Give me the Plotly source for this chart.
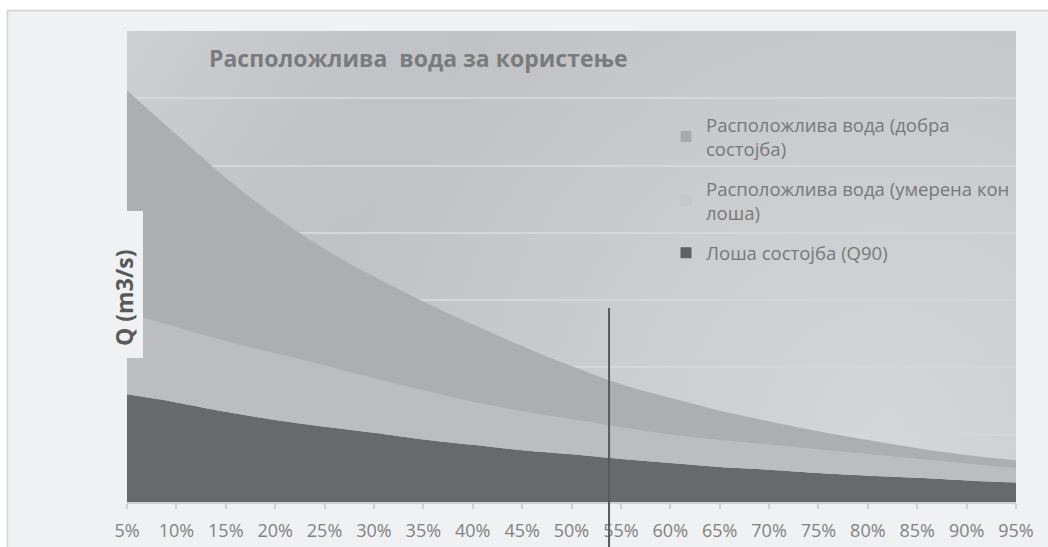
import base64
import plotly.graph_objects as go

# ---------------- data ----------------
pct = [5, 10, 15, 20, 25, 30, 35, 40, 45, 50, 55, 60, 65, 70, 75, 80, 85, 90, 95]
tick_labels = [f"{p}%" for p in pct]

# stacked band thicknesses (Q, arbitrary units: one gridline = 1)
q_losha_q90 = [1.60, 1.48, 1.34, 1.22, 1.12, 1.03, 0.93, 0.85, 0.77, 0.71,
               0.64, 0.58, 0.52, 0.48, 0.43, 0.39, 0.36, 0.32, 0.29]
q_umerena = [1.21, 1.12, 1.05, 0.99, 0.91, 0.81, 0.73, 0.64, 0.58, 0.52,
             0.47, 0.42, 0.40, 0.37, 0.35, 0.32, 0.28, 0.25, 0.21]
q_dobra = [3.31, 2.86, 2.43, 2.04, 1.73, 1.51, 1.32, 1.15, 0.97, 0.79,
           0.64, 0.55, 0.44, 0.35, 0.27, 0.21, 0.16, 0.13, 0.12]

names = ["Лоша состојба (Q90)",
         "Расположлива вода (умерена кон<br>лоша)",
         "Расположлива вода (добра<br>состојба)"]
title_text = "Расположлива\u00a0 вода за користење"
y_title = "Q (m3/s)"
marker_line_pct = 53.8

# ---------------- layout geometry ----------------
W, H = 1048, 547
L, R, T, B = 127, 1016, 31, 502
PW, PH = R - L, B - T


def px(xp):
    return (xp - L) / PW


def py(yp):
    return (B - yp) / PH


band_colors = ["#68696d", "#bcbdc0", "#adaeb1"]
legend_colors = ["#606165", "#c6c7c9", "#a8a9ac"]

fig = go.Figure()
series = [q_losha_q90, q_umerena, q_dobra]
for vals, col in zip(series, band_colors):
    fig.add_trace(go.Scatter(
        x=pct, y=vals, stackgroup="one", mode="lines",
        line=dict(width=0, shape="spline", smoothing=1.1, color=col),
        fillcolor=col, showlegend=False, hoverinfo="skip"))

# legend entries, top band first
for i in [2, 1, 0]:
    fig.add_trace(go.Scatter(
        x=[None], y=[None], mode="markers", name=names[i], legendgroup=f"g{i}",
        marker=dict(symbol="square", size=11, color=legend_colors[i])))

# plot-area gradient background
svg = f'''<svg xmlns="http://www.w3.org/2000/svg" width="{PW}" height="{PH}" viewBox="0 0 {PW} {PH}" preserveAspectRatio="none">
<defs>
<radialGradient id="r" gradientUnits="userSpaceOnUse" cx="760" cy="400" r="660">
<stop offset="0" stop-color="#d5d6d8"/><stop offset="0.5" stop-color="#cacbcd"/><stop offset="1" stop-color="#bdbec1"/>
</radialGradient>
<linearGradient id="l" gradientUnits="userSpaceOnUse" x1="0" y1="0" x2="260" y2="160">
<stop offset="0" stop-color="#cecfd2" stop-opacity="1"/><stop offset="1" stop-color="#cecfd2" stop-opacity="0"/>
</linearGradient>
</defs>
<rect width="{PW}" height="{PH}" fill="url(#r)"/>
<rect width="{PW}" height="{PH}" fill="url(#l)"/>
</svg>'''
src = "data:image/svg+xml;base64," + base64.b64encode(svg.encode()).decode()

shapes = [
    # white strips outside the page frame
    dict(type="rect", xref="paper", yref="paper", x0=px(-5), x1=px(W + 5),
         y0=py(10), y1=py(-5), fillcolor="white", line=dict(width=0), layer="below"),
    dict(type="rect", xref="paper", yref="paper", x0=px(-5), x1=px(7),
         y0=py(H + 5), y1=py(-5), fillcolor="white", line=dict(width=0), layer="below"),
    dict(type="line", xref="paper", yref="paper", x0=px(7), x1=px(W + 5),
         y0=py(10.5), y1=py(10.5), line=dict(color="#d2d2d2", width=1.5)),
    dict(type="line", xref="paper", yref="paper", x0=px(7.5), x1=px(7.5),
         y0=py(10), y1=py(H + 5), line=dict(color="#d2d2d2", width=1.5)),
    # y-title box over plot
    dict(type="rect", xref="paper", yref="paper", x0=px(100), x1=px(143),
         y0=py(358), y1=py(211), fillcolor="#f0f1f3", line=dict(width=0), layer="above"),
    # vertical marker line
    dict(type="line", xref="x", yref="paper", x0=marker_line_pct, x1=marker_line_pct,
         y0=py(308), y1=py(H + 5), line=dict(color="#58595c", width=2), layer="above"),
]

annotations = [
    dict(text=title_text, xref="paper", yref="paper", x=px(207), y=py(58),
         xanchor="left", yanchor="middle", showarrow=False,
         font=dict(family="Open Sans", size=23, color="#7a7b7d", weight="bold")),
    dict(text=y_title, xref="paper", yref="paper", x=px(124), y=py(298),
         xanchor="center", yanchor="middle", showarrow=False, textangle=-90,
         font=dict(family="Open Sans", size=23, color="#58595b", weight="bold")),
]

fig.update_layout(
    width=W, height=H, autosize=False,
    margin=dict(l=L, r=W - R, t=T, b=H - B, pad=0, autoexpand=False),
    paper_bgcolor="#f0f1f3", plot_bgcolor="rgba(0,0,0,0)",
    font=dict(family="Open Sans", color="#7f7f7f"),
    images=[dict(source=src, xref="paper", yref="paper", x=0, y=1, sizex=1, sizey=1,
                 xanchor="left", yanchor="top", sizing="stretch", layer="below")],
    shapes=shapes, annotations=annotations,
    showlegend=True,
    legend=dict(x=px(666), y=py(106), xanchor="left", yanchor="top",
                bgcolor="rgba(0,0,0,0)", traceorder="grouped",
                tracegroupgap=13, itemwidth=30,
                font=dict(family="Open Sans", size=18.5, color="#77787a")),
    xaxis=dict(range=[5, 95], tickmode="array", tickvals=pct, ticktext=tick_labels,
               showgrid=False, zeroline=False, showline=True, linecolor="#cfd0d2",
               linewidth=2, ticks="outside", ticklen=5, tickwidth=2, tickcolor="#cfd0d2",
               ticklabelstandoff=6, automargin=False,
               tickfont=dict(family="Open Sans", size=18, color="#808183")),
    yaxis=dict(range=[0, 7], dtick=1, showticklabels=False, showgrid=True,
               gridcolor="#d6d7d9", gridwidth=2, zeroline=False, showline=False, ticks="",
               automargin=False),
)

fig.write_html("out.html", post_script="document.body.style.margin='0';")
